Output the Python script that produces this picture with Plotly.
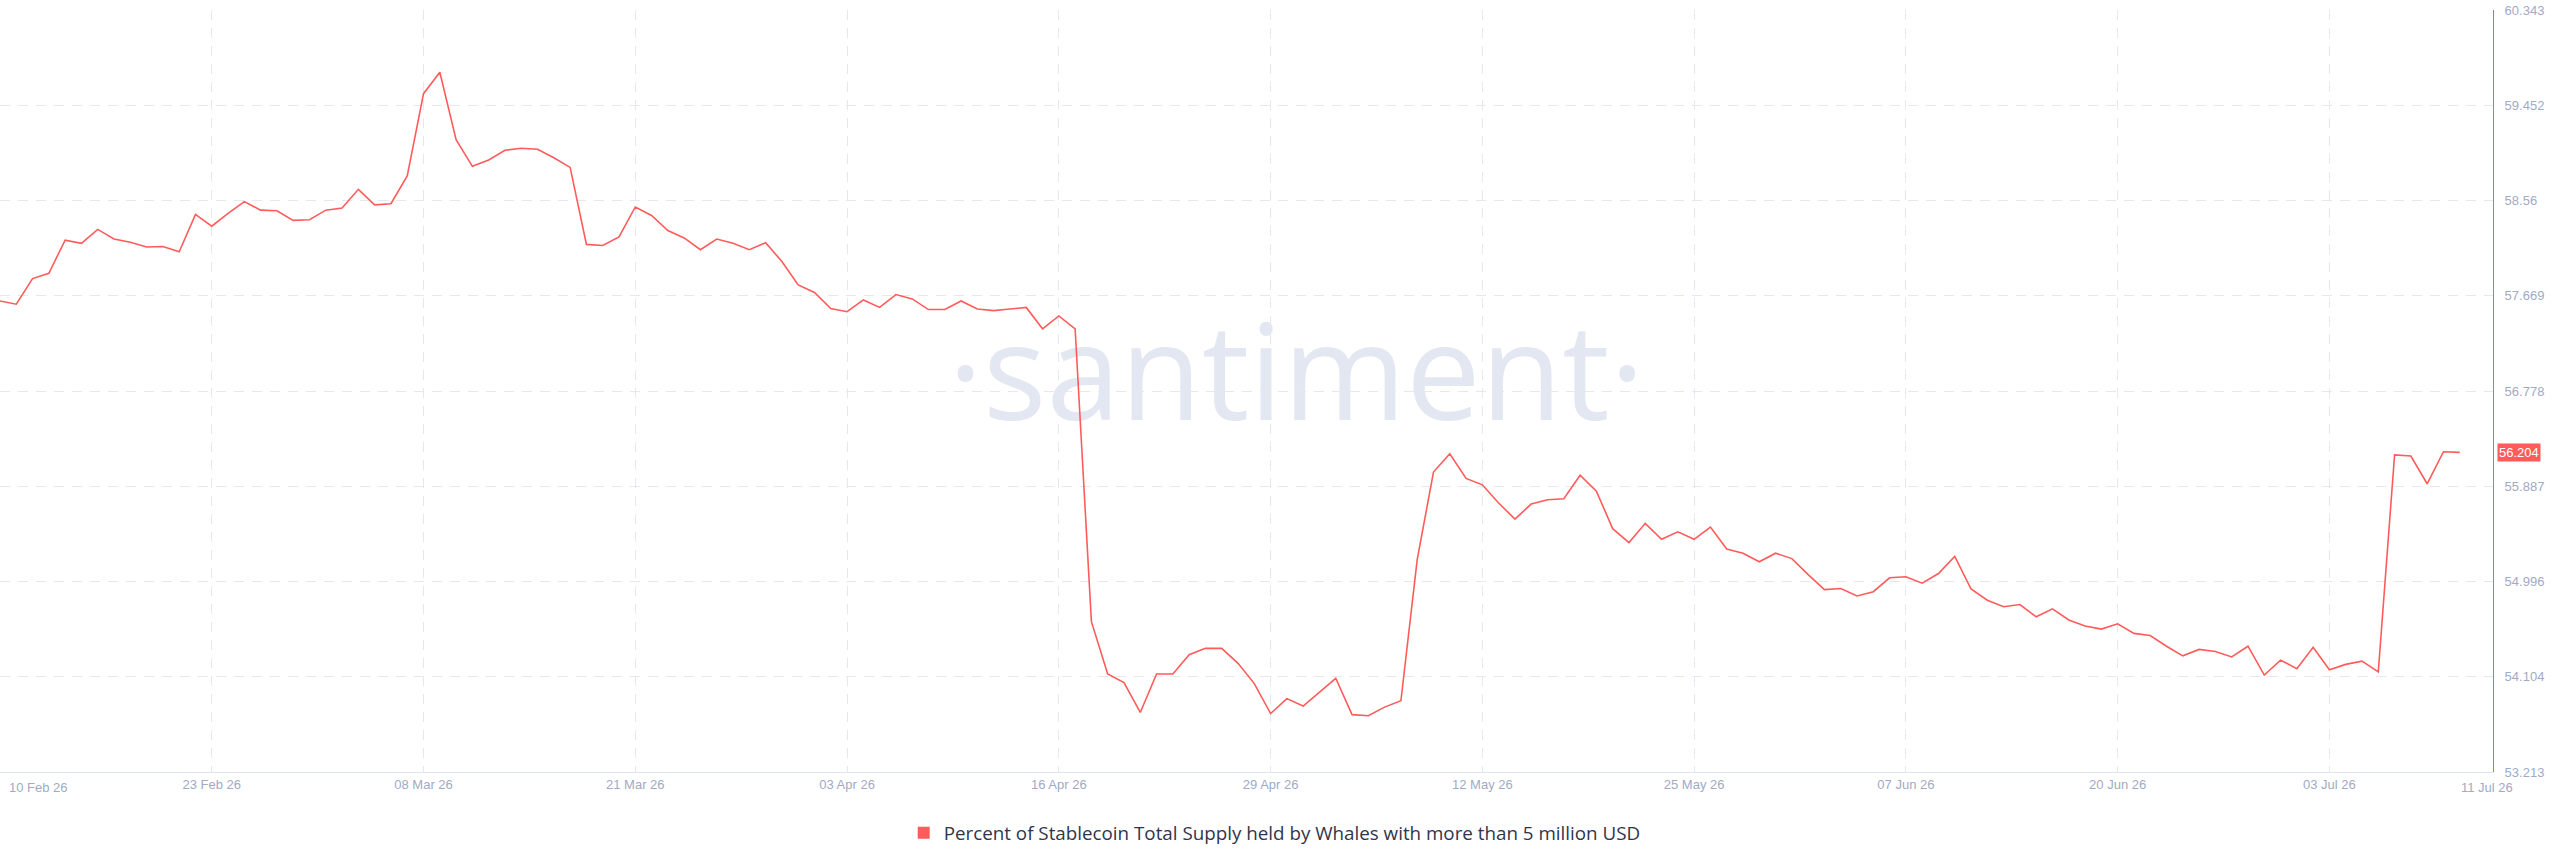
import pandas as pd
import plotly.graph_objects as go

# ---------------- data ----------------
start_date = "2026-02-10"
values = [
    57.62, 57.59, 57.83, 57.88, 58.19, 58.16, 58.29, 58.20, 58.17, 58.125,
    58.13, 58.08, 58.43, 58.32, 58.44, 58.55, 58.47, 58.465, 58.375, 58.38,
    58.47, 58.49, 58.665, 58.52, 58.53, 58.79, 59.56, 59.76, 59.13, 58.88,
    58.94, 59.03, 59.05, 59.04, 58.96, 58.87, 58.15, 58.14, 58.22, 58.50,
    58.42, 58.28, 58.21, 58.10, 58.20, 58.16, 58.10, 58.165, 57.99, 57.77,
    57.70, 57.55, 57.52, 57.63, 57.56, 57.68, 57.64, 57.54, 57.54, 57.62,
    57.545, 57.53, 57.545, 57.56, 57.36, 57.48, 57.36, 54.62, 54.13, 54.05,
    53.77, 54.13, 54.13, 54.31, 54.37, 54.37, 54.23, 54.04, 53.76, 53.90,
    53.83, 53.96, 54.09, 53.75, 53.74, 53.82, 53.88, 55.20, 56.02, 56.19,
    55.96, 55.90, 55.73, 55.58, 55.72, 55.76, 55.77, 55.99, 55.84, 55.49,
    55.36, 55.54, 55.39, 55.46, 55.39, 55.505, 55.30, 55.26, 55.18, 55.26,
    55.21, 55.06, 54.92, 54.93, 54.86, 54.90, 55.03, 55.04, 54.98, 55.07,
    55.23, 54.925, 54.82, 54.76, 54.78, 54.665, 54.74, 54.635, 54.58, 54.55,
    54.60, 54.51, 54.49, 54.39, 54.30, 54.36, 54.34, 54.29, 54.39, 54.12,
    54.26, 54.18, 54.38, 54.17, 54.22, 54.25, 54.15, 56.18, 56.17, 55.91,
    56.21, 56.204,
]
dates = pd.date_range(start_date, periods=len(values), freq="D")

x_tick_dates = ["2026-02-10", "2026-02-23", "2026-03-08", "2026-03-21", "2026-04-03",
                "2026-04-16", "2026-04-29", "2026-05-12", "2026-05-25", "2026-06-07",
                "2026-06-20", "2026-07-03"]
x_tick_labels = ["", "23 Feb 26", "08 Mar 26", "21 Mar 26", "03 Apr 26", "16 Apr 26",
                 "29 Apr 26", "12 May 26", "25 May 26", "07 Jun 26", "20 Jun 26", "03 Jul 26"]
first_label = "10 Feb 26"
last_label = "11 Jul 26"

y_tick_vals = [53.213, 54.104, 54.996, 55.887, 56.778, 57.669, 58.56, 59.452, 60.343]
y_tick_labels = ["53.213", "54.104", "54.996", "55.887", "56.778", "57.669", "58.56", "59.452", "60.343"]

series_name = "Percent of Stablecoin Total Supply held by Whales with more than 5 million USD"

# ---------------- style ----------------
RED = "#ff5b5b"
GRID = "#e5e8f1"
TICK = "#9faac4"
TEXT = "#2f354d"
WATERMARK = "#e3e7f1"
W, H = 2560, 867
ML, MR, MT, MB = 0, 67, 10, 95

fig = go.Figure()
fig.add_trace(go.Scatter(
    x=dates, y=values, mode="lines",
    line=dict(color=RED, width=1.6),
    showlegend=False, hoverinfo="skip",
))
# legend entry (square swatch)
fig.add_trace(go.Scatter(
    x=[None], y=[None], mode="markers", name=series_name,
    marker=dict(symbol="square", size=12, color=RED),
))

tickfont = dict(family="Liberation Sans, Arial, sans-serif", size=13, color=TICK)

fig.update_layout(
    width=W, height=H,
    margin=dict(l=ML, r=MR, t=MT, b=MB, pad=0),
    paper_bgcolor="white", plot_bgcolor="white",
    showlegend=True,
    legend=dict(
        orientation="h", x=0.3625, xanchor="left", y=-0.08, yanchor="middle",
        font=dict(family="Open Sans, sans-serif", size=18.8, color=TEXT),
        bgcolor="rgba(0,0,0,0)", itemclick=False,
    ),
    xaxis=dict(
        type="date",
        range=["2026-02-10", "2026-07-13 01:00"],
        tickvals=x_tick_dates, ticktext=x_tick_labels,
        showgrid=True, gridcolor=GRID, gridwidth=1, griddash="10px,8px",
        showline=True, linecolor="#dfe3ec", linewidth=1,
        ticks="", tickfont=tickfont, zeroline=False,
    ),
    yaxis=dict(
        side="right",
        range=[53.213, 60.343],
        tickvals=y_tick_vals, ticktext=y_tick_labels,
        showgrid=True, gridcolor=GRID, gridwidth=1, griddash="10px,8px",
        showline=True, linecolor=RED, linewidth=1,
        ticks="", ticklabelstandoff=8, tickfont=tickfont, zeroline=False,
    ),
    shapes=[dict(
        type="rect", xref="paper", yref="paper", layer="below",
        x0=0.30, x1=0.74, y0=0.368, y1=0.668,
        line=dict(width=0), fillcolor="rgba(0,0,0,0)",
        label=dict(text="·santiment·", textposition="middle center",
                   font=dict(family="Open Sans, sans-serif",
                             size=133, color=WATERMARK)),
    )],
    annotations=[
        dict(text=first_label, xref="paper", yref="paper", x=7 / (W - ML - MR), y=0,
             xanchor="left", yanchor="top", yshift=-6, showarrow=False, font=tickfont),
        dict(text=last_label, xref="paper", yref="paper", x=2487 / (W - ML - MR), y=0,
             xanchor="center", yanchor="top", yshift=-6, showarrow=False, font=tickfont),
        dict(text=f"{values[-1]:.3f}", xref="paper", yref="y", x=1, y=values[-1],
             xanchor="left", yanchor="middle", xshift=4, showarrow=False,
             bgcolor=RED, borderpad=1,
             font=dict(family="Liberation Sans, Arial, sans-serif", size=13, color="white")),
    ],
)

fig.write_html("out.html", config={"displayModeBar": False},
               post_script="document.body.style.margin='0';")
